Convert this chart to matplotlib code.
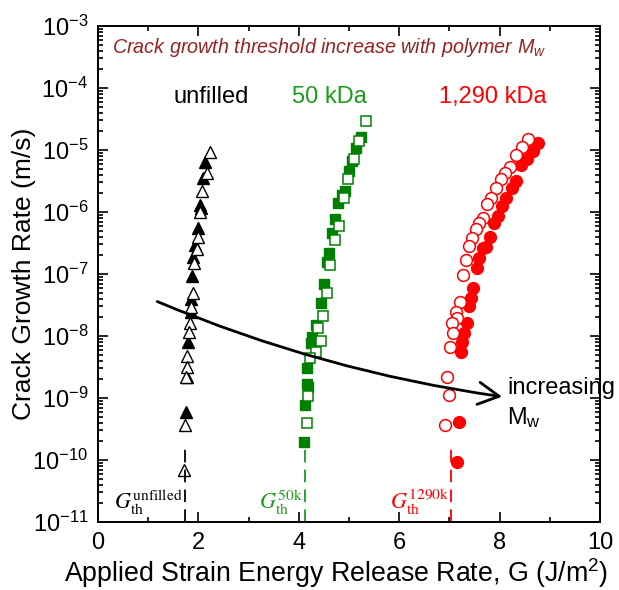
import numpy as np
import matplotlib
matplotlib.use('Agg')
import matplotlib.pyplot as plt
from matplotlib.ticker import LogLocator, FixedLocator, NullFormatter

plt.rcParams['font.family'] = ['Liberation Sans', 'DejaVu Sans']
plt.rcParams['mathtext.fontset'] = 'custom'
plt.rcParams['mathtext.rm'] = 'Liberation Sans'
plt.rcParams['mathtext.it'] = 'Liberation Sans:italic'
plt.rcParams['mathtext.bf'] = 'Liberation Sans:bold'

# ---- data: G (J/m^2) and crack growth rate (m/s) ----
unf_open_G = [2.23, 2.17, 2.07, 2.03, 1.99, 1.97, 1.91, 1.89, 1.85, 1.83,
              1.81, 1.77, 1.77, 1.75, 1.73, 1.71]
unf_open_rate = [9.3e-6, 4.3e-6, 2.2e-6, 1.0e-6, 4.0e-7, 2.5e-7, 1.5e-7, 4.9e-8,
                 2.9e-8, 1.6e-8, 1.15e-8, 4.7e-9, 3.2e-9, 2.2e-9, 3.7e-10, 6.9e-11]
unf_fill_G = [2.13, 2.09, 2.03, 2.05, 1.99, 1.93, 1.89, 1.87, 1.85, 1.85,
              1.79, 1.77, 1.75]
unf_fill_rate = [6.4e-6, 3.5e-6, 1.3e-6, 1.15e-6, 5.5e-7, 2.9e-7, 1.9e-7, 9.3e-8,
                 4.0e-8, 2.4e-8, 8.0e-9, 2.2e-9, 5.9e-10]

k50_open_G = [5.34, 5.20, 5.10, 4.98, 4.90, 4.80, 4.72, 4.62, 4.56, 4.48,
              4.38, 4.44, 4.34, 4.22, 4.18, 4.16]
k50_open_rate = [2.9e-5, 1.4e-5, 7.1e-6, 3.4e-6, 1.7e-6, 5.9e-7, 3.6e-7, 1.4e-7,
                 4.9e-8, 2.1e-8, 1.35e-8, 8.3e-9, 5.5e-9, 4.4e-9, 1.07e-9, 4.0e-10]
k50_fill_G = [5.24, 5.14, 5.06, 5.00, 4.92, 4.86, 4.78, 4.72, 4.66, 4.60,
              4.56, 4.50, 4.44, 4.34, 4.26, 4.24, 4.16, 4.16, 4.18, 4.12, 4.10]
k50_fill_rate = [1.6e-5, 1.07e-5, 6.6e-6, 4.6e-6, 2.2e-6, 1.9e-6, 1.4e-6, 7.7e-7,
                 4.6e-7, 2.2e-7, 1.55e-7, 6.9e-8, 3.4e-8, 1.5e-8, 9.5e-9, 7.7e-9,
                 3.0e-9, 1.7e-9, 1.5e-9, 7.7e-10, 1.96e-10]

k1290_open_G = [8.57, 8.45, 8.33, 8.21, 8.11, 8.03, 7.93, 7.83, 7.75, 7.67,
                7.59, 7.53, 7.45, 7.39, 7.33, 7.27, 7.21, 7.13, 7.15, 7.05,
                7.07, 7.01, 6.95, 6.99, 6.91]
k1290_open_rate = [1.5e-5, 1.12e-5, 8.3e-6, 5.3e-6, 4.3e-6, 3.4e-6, 2.4e-6, 1.7e-6,
                   1.35e-6, 8.0e-7, 6.6e-7, 5.3e-7, 3.8e-7, 2.8e-7, 1.7e-7, 9.6e-8,
                   3.5e-8, 2.4e-8, 1.95e-8, 1.6e-8, 1.1e-8, 6.6e-9, 2.2e-9, 1.1e-9,
                   3.6e-10]
k1290_fill_G = [8.76, 8.67, 8.55, 8.43, 8.33, 8.25, 8.13, 8.05, 7.97, 7.89,
                7.81, 7.73, 7.67, 7.59, 7.55, 7.47, 7.43, 7.39, 7.35, 7.29,
                7.25, 7.23, 7.19, 7.15]
k1290_fill_rate = [1.3e-5, 9.5e-6, 7.1e-6, 5.7e-6, 3.2e-6, 2.4e-6, 1.7e-6, 1.25e-6,
                   8.7e-7, 6.6e-7, 4.0e-7, 2.7e-7, 2.6e-7, 1.8e-7, 1.25e-7, 5.9e-8,
                   4.1e-8, 3.0e-8, 1.6e-8, 1.1e-8, 8.0e-9, 5.5e-9, 4.1e-10, 9.3e-11]

# thresholds G_th and their labels
g_th = [1.73, 4.12, 7.04]
g_th_labels = [r'$G_{\rm th}^{\rm unfilled}$', r'$G_{\rm th}^{\rm 50k}$',
               r'$G_{\rm th}^{\rm 1290k}$']
group_names = ['unfilled', '50 kDa', '1,290 kDa']
group_x = [2.25, 4.62, 7.87]

DARKGREEN = '#008000'
GREEN = '#1a9e1a'
RED = '#ff0000'
TITLE_RED = '#962222'

fig = plt.figure(figsize=(6.19, 5.90), dpi=100)
ax = fig.add_axes([0.1583, 0.1153, 0.811, 0.8406])

# filled first, open markers on top
ax.plot(unf_fill_G, unf_fill_rate, '^', color='k', ms=8.5, mew=1.0, ls='none')
ax.plot(unf_open_G, unf_open_rate, '^', mfc='white', mec='k', ms=8.5, mew=1.0, ls='none')
ax.plot(k50_fill_G, k50_fill_rate, 's', color=DARKGREEN, ms=7.5, mew=1.0, ls='none')
ax.plot(k50_open_G, k50_open_rate, 's', mfc='white', mec=DARKGREEN, ms=7.5, mew=1.1, ls='none')
ax.plot(k1290_fill_G, k1290_fill_rate, 'o', color=RED, ms=8.5, mew=1.0, ls='none')
ax.plot(k1290_open_G, k1290_open_rate, 'o', mfc='white', mec=RED, ms=8.5, mew=1.1, ls='none')

ax.set_yscale('log')
ax.set_xlim(0, 10)
ax.set_ylim(1e-11, 1e-3)

# threshold dashed lines and labels
th_colors = ['k', GREEN, RED]
for g, lab, c in zip(g_th, g_th_labels, th_colors):
    ax.plot([g, g], [1e-11, 1.5e-10], color=c, lw=1.3, dashes=(7, 4))
    ax.text(g - 0.04, 1.6e-11, lab, color=c, fontsize=16, ha='right', va='baseline',
            math_fontfamily='stix')

for name, x, c in zip(group_names, group_x, ['k', GREEN, RED]):
    ax.text(x, 7.1e-5, name, color=c, fontsize=17, ha='center', va='center')

ax.text(0.28, 4.5e-4, r'Crack growth threshold increase with polymer $M_w$',
        color=TITLE_RED, fontsize=14.2, style='italic', va='center')

# arrow: increasing Mw
ax.annotate('', xy=(8.05, 1.05e-9), xytext=(1.18, 3.6e-8),
            arrowprops=dict(arrowstyle='->,head_length=0.75,head_width=0.4',
                            connectionstyle='arc3,rad=0.065', lw=2.0,
                            color='k', mutation_scale=20, shrinkA=0, shrinkB=0))
ax.text(8.15, 8.2e-10, 'increasing\nM$_{\\rm w}$', fontsize=17, ha='left',
        va='center', linespacing=1.3)

# ticks
ax.xaxis.set_major_locator(FixedLocator([0, 2, 4, 6, 8, 10]))
ax.xaxis.set_minor_locator(FixedLocator([1, 3, 5, 7, 9]))
ax.yaxis.set_major_locator(LogLocator(base=10, numticks=20))
ax.yaxis.set_minor_locator(LogLocator(base=10, subs=np.arange(2, 10), numticks=20))
ax.yaxis.set_minor_formatter(NullFormatter())
ax.tick_params(which='both', direction='in', top=True, right=True, width=1.2)
ax.tick_params(which='major', length=7, labelsize=17, pad=7)
ax.tick_params(which='minor', length=3.5)
for s in ax.spines.values():
    s.set_linewidth(1.4)

ax.set_xlabel(r'Applied Strain Energy Release Rate, G (J/m$^2$)', fontsize=19.3)
ax.xaxis.set_label_coords(0.474, -0.07, transform=ax.transAxes)
ax.xaxis.label.set_va('top')
ax.set_ylabel('Crack Growth Rate (m/s)', fontsize=19)
ax.yaxis.set_label_coords(-0.124, 0.5, transform=ax.transAxes)

fig.savefig('out.png', dpi=100)
